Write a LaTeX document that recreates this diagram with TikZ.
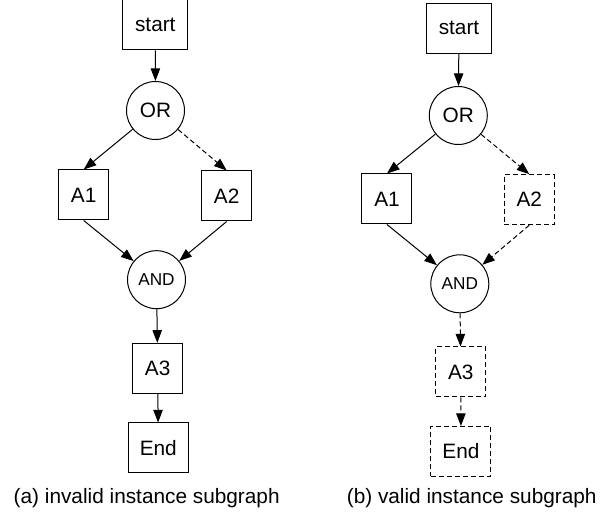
\documentclass[tikz,border=0pt]{standalone}
\usepackage{fontspec}
\setmainfont{Liberation Sans}
\usetikzlibrary{arrows.meta,positioning}

\begin{document}
\begin{tikzpicture}[
    x=0.5pt, y=-0.5pt,
    every node/.style={font=\fontsize{10.4}{12}\selectfont, inner sep=0pt},
    box/.style={draw, line width=0.5pt, minimum width=25pt, minimum height=25pt},
    dbox/.style={box, dash pattern=on 2.5pt off 1.5pt},
    gate/.style={draw, circle, line width=0.5pt, minimum size=29pt},
    arr/.style={-{Triangle[length=6.3pt, width=4.7pt]}, line width=0.5pt},
    darr/.style={arr, dash pattern=on 2.5pt off 1.5pt},
]
\useasboundingbox (0,0) rectangle (602,518);

% (a) invalid instance subgraph
\node (st1) [box, minimum width=32.5pt] at (155.3,25) {start};
\node (or1) [gate] at (155.5,110.5) {OR};
\node (a1l) [box] at (83.7,195) {A1};
\node (a2l) [box] at (226.7,196) {A2};
\node (and1) [gate, font=\fontsize{8.6}{10}\selectfont] at (156.5,279.7) {AND};
\node (a3l) [box] at (157.7,368.3) {A3};
\node (end1) [box, minimum width=30pt] at (158.3,448) {End};

\draw[arr] (st1) -- (or1);
\draw[arr] (or1) -- (a1l.north);
\draw[darr] (or1) -- (a2l.north);
\draw[arr] (a1l.south) -- (and1);
\draw[arr] (a2l.south) -- (and1);
\draw[arr] (and1) -- (a3l);
\draw[arr] (a3l) -- (end1);

% (b) valid instance subgraph
\node (st2) [box, minimum width=32.5pt] at (459,28.3) {start};
\node (or2) [gate] at (458.3,115.5) {OR};
\node (a1r) [box] at (387,199) {A1};
\node (a2r) [dbox] at (529.3,199.7) {A2};
\node (and2) [gate, font=\fontsize{8.6}{10}\selectfont] at (459.8,283.8) {AND};
\node (a3r) [dbox] at (460.8,372) {A3};
\node (end2) [dbox, minimum width=30pt] at (461,451.5) {End};

\draw[arr] (st2) -- (or2);
\draw[arr] (or2) -- (a1r.north);
\draw[darr] (or2) -- (a2r.north);
\draw[arr] (a1r.south) -- (and2);
\draw[darr] (a2r.south) -- (and2);
\draw[darr] (and2) -- (a3r);
\draw[darr] (a3r) -- (end2);

% Captions
\node (cap1) at (146.7,498) {(a) invalid instance subgraph};
\node (cap2) at (471.7,498) {(b) valid instance subgraph};
\end{tikzpicture}
\end{document}
